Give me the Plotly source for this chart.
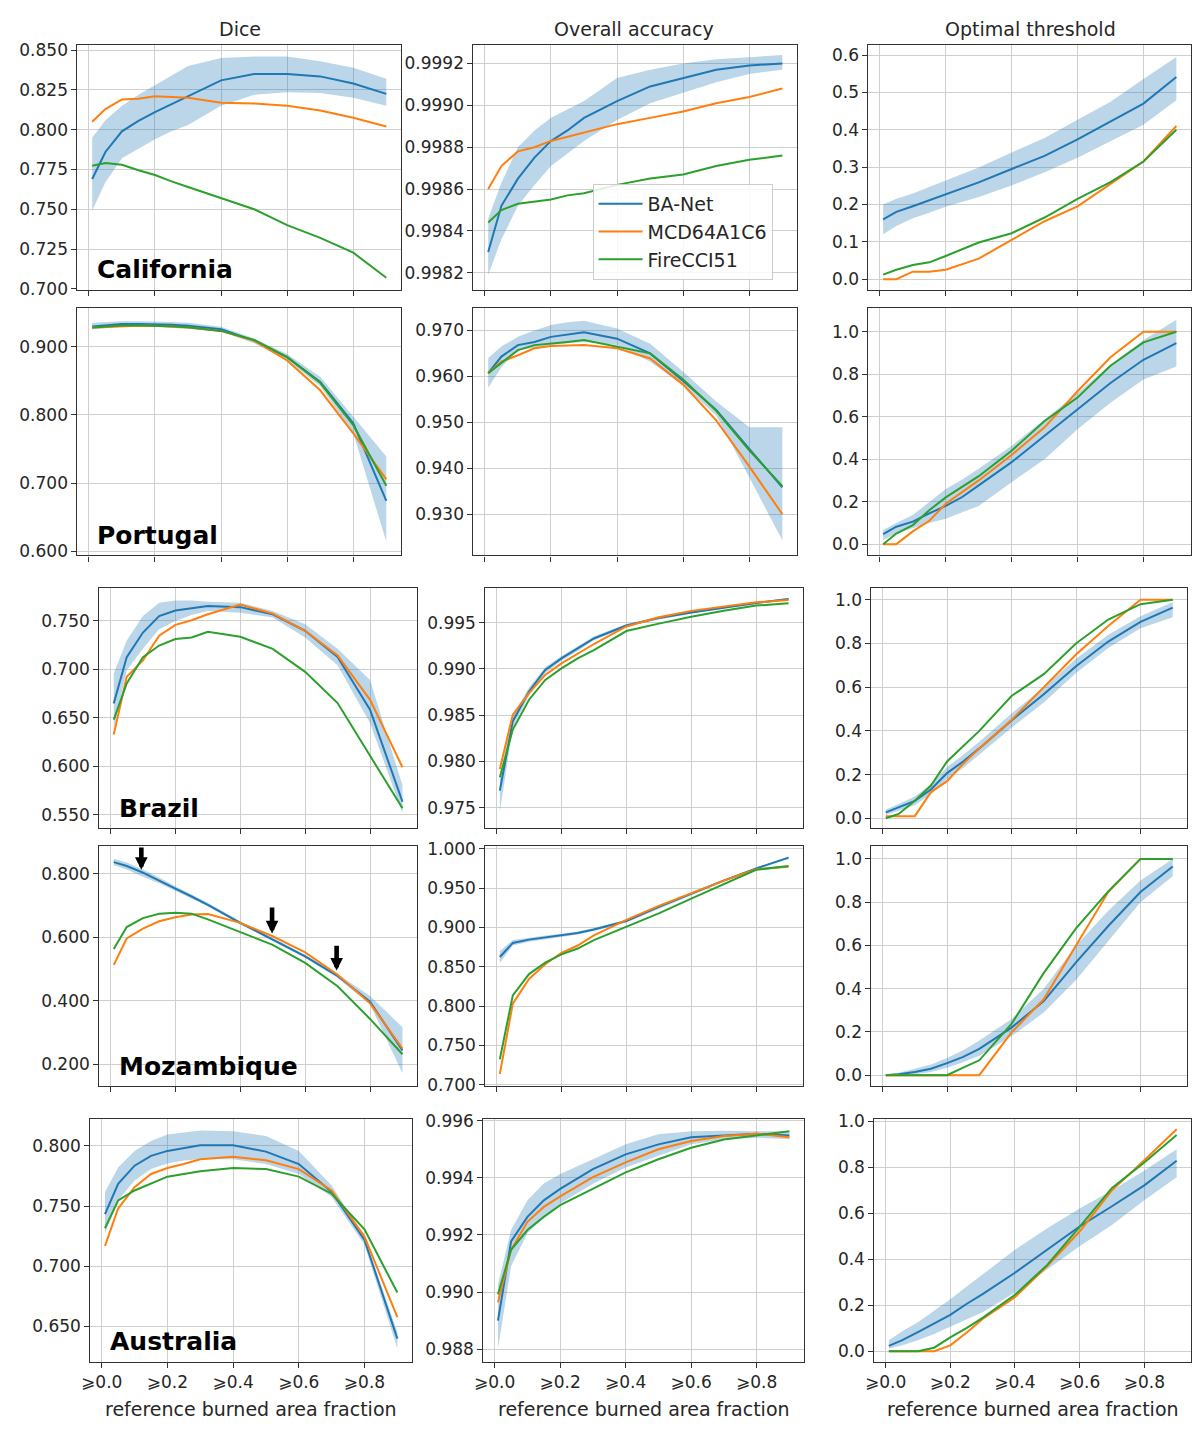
import plotly.graph_objects as go

# ---------------- data ----------------
X = [0.01, 0.05, 0.1, 0.15, 0.2, 0.25, 0.3, 0.4, 0.5, 0.6, 0.7, 0.8, 0.9]
X_TICK_VALUES = [0.0, 0.2, 0.4, 0.6, 0.8]
X_TICK_LABELS = ["⩾0.0", "⩾0.2", "⩾0.4", "⩾0.6", "⩾0.8"]
SERIES_NAMES = ["BA-Net", "MCD64A1C6", "FireCCI51"]
REGIONS = ["California", "Portugal", "Brazil", "Mozambique", "Australia"]
METRICS = ["Dice", "Overall accuracy", "Optimal threshold"]
X_TITLE = "reference burned area fraction"

# California
CA_DICE_BANET = [0.769, 0.786, 0.799, 0.8055, 0.811, 0.816, 0.821, 0.831, 0.835, 0.835, 0.8335, 0.829, 0.8225]
CA_DICE_BANET_HI = [0.795, 0.806, 0.815, 0.822, 0.828, 0.834, 0.840, 0.845, 0.846, 0.846, 0.843, 0.839, 0.832]
CA_DICE_BANET_LO = [0.749, 0.767, 0.782, 0.788, 0.794, 0.799, 0.803, 0.815, 0.822, 0.8235, 0.823, 0.820, 0.815]
CA_DICE_MCD = [0.805, 0.813, 0.819, 0.8195, 0.821, 0.8205, 0.820, 0.817, 0.8165, 0.815, 0.812, 0.8075, 0.802]
CA_DICE_CCI = [0.7774, 0.779, 0.778, 0.7745, 0.7715, 0.7675, 0.764, 0.757, 0.750, 0.740, 0.732, 0.7227, 0.707]

CA_OA_BANET = [0.99830, 0.99852, 0.99865, 0.99875, 0.99883, 0.99888, 0.99894, 0.99902, 0.99909, 0.99913, 0.99917, 0.99919, 0.99920]
CA_OA_BANET_HI = [0.99846, 0.99863, 0.99880, 0.99888, 0.99894, 0.99898, 0.99902, 0.99913, 0.99917, 0.99920, 0.99922, 0.99923, 0.99924]
CA_OA_BANET_LO = [0.99819, 0.99836, 0.99852, 0.99862, 0.99871, 0.99877, 0.99883, 0.99893, 0.99901, 0.99906, 0.99911, 0.99915, 0.99917]
CA_OA_MCD = [0.99860, 0.99871, 0.99878, 0.99880, 0.99883, 0.99885, 0.99887, 0.99891, 0.99894, 0.99897, 0.99901, 0.99904, 0.99908]
CA_OA_CCI = [0.99844, 0.99850, 0.99853, 0.99854, 0.99855, 0.99857, 0.99858, 0.99862, 0.99865, 0.99867, 0.99871, 0.99874, 0.99876]

CA_OT_BANET = [0.160, 0.180, 0.195, 0.211, 0.229, 0.244, 0.259, 0.295, 0.330, 0.374, 0.422, 0.470, 0.541]
CA_OT_BANET_HI = [0.200, 0.215, 0.229, 0.246, 0.264, 0.281, 0.299, 0.339, 0.378, 0.427, 0.475, 0.536, 0.595]
CA_OT_BANET_LO = [0.120, 0.142, 0.163, 0.178, 0.194, 0.207, 0.220, 0.251, 0.286, 0.325, 0.369, 0.413, 0.479]
CA_OT_MCD = [0.0, 0.0, 0.02, 0.02, 0.025, 0.04, 0.055, 0.105, 0.155, 0.195, 0.255, 0.315, 0.41]
CA_OT_CCI = [0.012, 0.025, 0.038, 0.045, 0.062, 0.08, 0.098, 0.123, 0.165, 0.215, 0.26, 0.315, 0.40]

# Portugal
PT_DICE_BANET = [0.9295, 0.9314, 0.933, 0.933, 0.933, 0.932, 0.9305, 0.9256, 0.9087, 0.8845, 0.848, 0.7876, 0.674]
PT_DICE_BANET_HI = [0.935, 0.936, 0.937, 0.937, 0.937, 0.936, 0.935, 0.929, 0.912, 0.889, 0.856, 0.797, 0.739]
PT_DICE_BANET_LO = [0.925, 0.927, 0.929, 0.929, 0.929, 0.928, 0.926, 0.922, 0.905, 0.880, 0.842, 0.773, 0.614]
PT_DICE_MCD = [0.928, 0.929, 0.930, 0.9305, 0.9305, 0.929, 0.928, 0.923, 0.9087, 0.8797, 0.836, 0.773, 0.7055]
PT_DICE_CCI = [0.928, 0.9295, 0.931, 0.931, 0.931, 0.930, 0.9285, 0.923, 0.9097, 0.8845, 0.847, 0.785, 0.696]

PT_OA_BANET = [0.9607, 0.9643, 0.9668, 0.9675, 0.9686, 0.9691, 0.9696, 0.9682, 0.9650, 0.9590, 0.9527, 0.9442, 0.9358]
PT_OA_BANET_HI = [0.9640, 0.9665, 0.9686, 0.9700, 0.9712, 0.9718, 0.9721, 0.9704, 0.9671, 0.9610, 0.9545, 0.9489, 0.9489]
PT_OA_BANET_LO = [0.9575, 0.9620, 0.9657, 0.9662, 0.9668, 0.9672, 0.9675, 0.9668, 0.9632, 0.9580, 0.9515, 0.9380, 0.9243]
PT_OA_MCD = [0.9607, 0.9632, 0.9646, 0.9661, 0.9666, 0.9667, 0.9668, 0.9661, 0.9639, 0.9582, 0.9504, 0.9404, 0.9300]
PT_OA_CCI = [0.9607, 0.9629, 0.9657, 0.9668, 0.9671, 0.9675, 0.9679, 0.9664, 0.9650, 0.9593, 0.9525, 0.9439, 0.9361]

PT_OT_BANET = [0.047, 0.082, 0.106, 0.145, 0.180, 0.222, 0.277, 0.386, 0.510, 0.635, 0.759, 0.868, 0.946]
PT_OT_BANET_HI = [0.067, 0.100, 0.137, 0.200, 0.260, 0.305, 0.355, 0.463, 0.588, 0.712, 0.845, 0.961, 1.057]
PT_OT_BANET_LO = [0.020, 0.050, 0.075, 0.100, 0.120, 0.150, 0.180, 0.292, 0.400, 0.541, 0.666, 0.775, 0.837]
PT_OT_MCD = [0.0, 0.0, 0.06, 0.11, 0.19, 0.245, 0.30, 0.42, 0.55, 0.72, 0.88, 1.0, 1.0]
PT_OT_CCI = [0.0, 0.05, 0.09, 0.16, 0.22, 0.27, 0.32, 0.44, 0.58, 0.69, 0.84, 0.95, 1.0]

# Brazil
BR_DICE_BANET = [0.665, 0.7127, 0.738, 0.755, 0.7608, 0.763, 0.7653, 0.7642, 0.7568, 0.7398, 0.7127, 0.6585, 0.5636]
BR_DICE_BANET_HI = [0.6958, 0.7297, 0.7551, 0.7686, 0.771, 0.771, 0.7697, 0.7686, 0.7602, 0.7466, 0.7212, 0.689, 0.5805]
BR_DICE_BANET_LO = [0.638, 0.6992, 0.7212, 0.7415, 0.750, 0.756, 0.7602, 0.7585, 0.7534, 0.733, 0.7042, 0.6449, 0.5517]
BR_DICE_MCD = [0.633, 0.6924, 0.7093, 0.7347, 0.7459, 0.7507, 0.7568, 0.7669, 0.7575, 0.7398, 0.7144, 0.6686, 0.5992]
BR_DICE_CCI = [0.6483, 0.6856, 0.7127, 0.7246, 0.7314, 0.733, 0.7388, 0.7337, 0.7212, 0.6975, 0.6653, 0.611, 0.5568]

BR_OA_BANET = [0.97686, 0.98436, 0.98757, 0.98989, 0.99114, 0.99220, 0.99330, 0.99470, 0.99550, 0.99610, 0.99665, 0.99712, 0.99757]
BR_OA_BANET_HI = [0.97846, 0.98500, 0.98800, 0.99020, 0.99140, 0.99245, 0.99350, 0.99486, 0.99565, 0.99624, 0.99677, 0.99723, 0.99768]
BR_OA_BANET_LO = [0.97454, 0.98370, 0.98710, 0.98955, 0.99088, 0.99195, 0.99310, 0.99454, 0.99535, 0.99596, 0.99653, 0.99701, 0.99746]
BR_OA_MCD = [0.97918, 0.98507, 0.98739, 0.98936, 0.99061, 0.99168, 0.99270, 0.99460, 0.99560, 0.99628, 0.99677, 0.99720, 0.99746]
BR_OA_CCI = [0.97829, 0.98346, 0.98668, 0.98882, 0.99007, 0.99114, 0.99204, 0.99410, 0.99490, 0.99565, 0.99630, 0.99685, 0.99711]

BR_OT_BANET = [0.027, 0.050, 0.080, 0.132, 0.207, 0.260, 0.320, 0.448, 0.568, 0.696, 0.809, 0.899, 0.964]
BR_OT_BANET_HI = [0.040, 0.065, 0.100, 0.155, 0.235, 0.290, 0.350, 0.480, 0.600, 0.730, 0.840, 0.925, 0.990]
BR_OT_BANET_LO = [0.015, 0.035, 0.060, 0.110, 0.180, 0.230, 0.290, 0.415, 0.530, 0.665, 0.780, 0.870, 0.920]
BR_OT_MCD = [0.01, 0.01, 0.01, 0.12, 0.17, 0.25, 0.32, 0.45, 0.60, 0.75, 0.88, 1.0, 1.0]
BR_OT_CCI = [0.0, 0.02, 0.08, 0.15, 0.26, 0.33, 0.40, 0.56, 0.66, 0.80, 0.91, 0.98, 1.0]

# Mozambique
MZ_DICE_BANET = [0.836, 0.824, 0.803, 0.779, 0.753, 0.728, 0.702, 0.645, 0.593, 0.540, 0.478, 0.397, 0.244]
MZ_DICE_BANET_HI = [0.847, 0.835, 0.813, 0.788, 0.760, 0.734, 0.708, 0.650, 0.598, 0.545, 0.484, 0.415, 0.317]
MZ_DICE_BANET_LO = [0.826, 0.813, 0.790, 0.770, 0.746, 0.722, 0.697, 0.640, 0.588, 0.535, 0.472, 0.389, 0.172]
MZ_DICE_MCD = [0.513, 0.596, 0.627, 0.650, 0.663, 0.671, 0.673, 0.645, 0.603, 0.552, 0.482, 0.392, 0.250]
MZ_DICE_CCI = [0.563, 0.632, 0.660, 0.674, 0.677, 0.674, 0.656, 0.617, 0.576, 0.519, 0.446, 0.343, 0.232]

MZ_OA_BANET = [0.8625, 0.8804, 0.8846, 0.8875, 0.8900, 0.8930, 0.8975, 0.9083, 0.9263, 0.9430, 0.9596, 0.9750, 0.9888]
MZ_OA_BANET_HI = [0.8700, 0.8840, 0.8870, 0.8900, 0.8920, 0.8950, 0.8995, 0.9100, 0.9280, 0.9450, 0.9610, 0.9760, 0.9900]
MZ_OA_BANET_LO = [0.8550, 0.8770, 0.8820, 0.8850, 0.8880, 0.8910, 0.8955, 0.9065, 0.9245, 0.9410, 0.9580, 0.9740, 0.9870]
MZ_OA_MCD = [0.7138, 0.8033, 0.8346, 0.8533, 0.8679, 0.8771, 0.8900, 0.9096, 0.9275, 0.9438, 0.9596, 0.9742, 0.9771]
MZ_OA_CCI = [0.7325, 0.8138, 0.8408, 0.8554, 0.8658, 0.8733, 0.8840, 0.9013, 0.9179, 0.9367, 0.9554, 0.9733, 0.9783]

MZ_OT_BANET = [0.0, 0.005, 0.015, 0.030, 0.056, 0.085, 0.122, 0.220, 0.343, 0.522, 0.690, 0.847, 0.965]
MZ_OT_BANET_HI = [0.005, 0.012, 0.030, 0.050, 0.080, 0.115, 0.160, 0.260, 0.400, 0.600, 0.760, 0.900, 1.000]
MZ_OT_BANET_LO = [0.0, 0.0, 0.005, 0.015, 0.035, 0.060, 0.090, 0.180, 0.290, 0.440, 0.620, 0.800, 0.920]
MZ_OT_MCD = [0.0, 0.0, 0.0, 0.0, 0.0, 0.0, 0.0, 0.198, 0.351, 0.60, 0.847, 1.0, 1.0]
MZ_OT_CCI = [0.0, 0.0, 0.0, 0.0, 0.0, 0.035, 0.069, 0.237, 0.473, 0.679, 0.85, 1.0, 1.0]

# Australia
AU_DICE_BANET = [0.7433, 0.7685, 0.7836, 0.7918, 0.7959, 0.798, 0.8005, 0.8005, 0.7953, 0.785, 0.7617, 0.722, 0.6399]
AU_DICE_BANET_HI = [0.7617, 0.7822, 0.7959, 0.8041, 0.8096, 0.8115, 0.8129, 0.8123, 0.8082, 0.7959, 0.7672, 0.7247, 0.6453]
AU_DICE_BANET_LO = [0.7275, 0.7548, 0.7713, 0.7808, 0.7855, 0.788, 0.789, 0.789, 0.785, 0.7767, 0.7576, 0.7179, 0.6316]
AU_DICE_MCD = [0.717, 0.748, 0.7658, 0.7767, 0.7817, 0.785, 0.789, 0.791, 0.7882, 0.7808, 0.763, 0.7247, 0.6577]
AU_DICE_CCI = [0.7316, 0.7548, 0.763, 0.7685, 0.7745, 0.7767, 0.7789, 0.7817, 0.7808, 0.7745, 0.7603, 0.7307, 0.6782]

AU_OA_BANET = [0.98900, 0.99177, 0.99263, 0.99321, 0.99361, 0.99396, 0.99430, 0.99482, 0.99517, 0.99542, 0.99549, 0.99554, 0.99548]
AU_OA_BANET_HI = [0.99027, 0.99217, 0.99321, 0.99380, 0.99413, 0.99440, 0.99465, 0.99517, 0.99552, 0.99563, 0.99565, 0.99563, 0.99563]
AU_OA_BANET_LO = [0.98802, 0.99090, 0.99206, 0.99262, 0.99310, 0.99345, 0.99379, 0.99436, 0.99477, 0.99517, 0.99534, 0.99540, 0.99535]
AU_OA_MCD = [0.98964, 0.99148, 0.99246, 0.99298, 0.99335, 0.99367, 0.99402, 0.99454, 0.99500, 0.99529, 0.99546, 0.99554, 0.99542]
AU_OA_CCI = [0.98992, 0.99148, 0.99217, 0.99263, 0.99304, 0.99333, 0.99361, 0.99419, 0.99465, 0.99505, 0.99534, 0.99549, 0.99563]

AU_OT_BANET = [0.023, 0.047, 0.083, 0.119, 0.158, 0.205, 0.248, 0.341, 0.441, 0.542, 0.630, 0.721, 0.828]
AU_OT_BANET_HI = [0.047, 0.085, 0.126, 0.175, 0.226, 0.280, 0.334, 0.441, 0.534, 0.620, 0.699, 0.785, 0.878]
AU_OT_BANET_LO = [0.011, 0.025, 0.047, 0.075, 0.105, 0.137, 0.169, 0.255, 0.355, 0.456, 0.549, 0.656, 0.756]
AU_OT_MCD = [0.0, 0.0, 0.0, 0.0, 0.025, 0.08, 0.14, 0.235, 0.37, 0.52, 0.70, 0.83, 0.965]
AU_OT_CCI = [0.0, 0.0, 0.0, 0.015, 0.06, 0.10, 0.145, 0.245, 0.375, 0.54, 0.71, 0.82, 0.94]

# Arrows marking Mozambique Dice points (x, tail y, tip y)
ARROW_X = [0.095, 0.498, 0.697]
ARROW_TAIL_Y = [0.887, 0.698, 0.578]
ARROW_TIP_Y = [0.812, 0.612, 0.495]

# y-axis ticks per panel
Y_TICKS = [
    [[0.700, 0.725, 0.750, 0.775, 0.800, 0.825, 0.850], [0.9982, 0.9984, 0.9986, 0.9988, 0.9990, 0.9992], [0.0, 0.1, 0.2, 0.3, 0.4, 0.5, 0.6]],
    [[0.6, 0.7, 0.8, 0.9], [0.93, 0.94, 0.95, 0.96, 0.97], [0.0, 0.2, 0.4, 0.6, 0.8, 1.0]],
    [[0.55, 0.60, 0.65, 0.70, 0.75], [0.975, 0.980, 0.985, 0.990, 0.995], [0.0, 0.2, 0.4, 0.6, 0.8, 1.0]],
    [[0.2, 0.4, 0.6, 0.8], [0.70, 0.75, 0.80, 0.85, 0.90, 0.95, 1.00], [0.0, 0.2, 0.4, 0.6, 0.8, 1.0]],
    [[0.65, 0.70, 0.75, 0.80], [0.988, 0.990, 0.992, 0.994, 0.996], [0.0, 0.2, 0.4, 0.6, 0.8, 1.0]],
]
Y_FORMATS = [".3f", ".4f", ".1f"]

# ---------------- assemble ----------------
PANELS = [
    [(CA_DICE_BANET, CA_DICE_BANET_LO, CA_DICE_BANET_HI, CA_DICE_MCD, CA_DICE_CCI),
     (CA_OA_BANET, CA_OA_BANET_LO, CA_OA_BANET_HI, CA_OA_MCD, CA_OA_CCI),
     (CA_OT_BANET, CA_OT_BANET_LO, CA_OT_BANET_HI, CA_OT_MCD, CA_OT_CCI)],
    [(PT_DICE_BANET, PT_DICE_BANET_LO, PT_DICE_BANET_HI, PT_DICE_MCD, PT_DICE_CCI),
     (PT_OA_BANET, PT_OA_BANET_LO, PT_OA_BANET_HI, PT_OA_MCD, PT_OA_CCI),
     (PT_OT_BANET, PT_OT_BANET_LO, PT_OT_BANET_HI, PT_OT_MCD, PT_OT_CCI)],
    [(BR_DICE_BANET, BR_DICE_BANET_LO, BR_DICE_BANET_HI, BR_DICE_MCD, BR_DICE_CCI),
     (BR_OA_BANET, BR_OA_BANET_LO, BR_OA_BANET_HI, BR_OA_MCD, BR_OA_CCI),
     (BR_OT_BANET, BR_OT_BANET_LO, BR_OT_BANET_HI, BR_OT_MCD, BR_OT_CCI)],
    [(MZ_DICE_BANET, MZ_DICE_BANET_LO, MZ_DICE_BANET_HI, MZ_DICE_MCD, MZ_DICE_CCI),
     (MZ_OA_BANET, MZ_OA_BANET_LO, MZ_OA_BANET_HI, MZ_OA_MCD, MZ_OA_CCI),
     (MZ_OT_BANET, MZ_OT_BANET_LO, MZ_OT_BANET_HI, MZ_OT_MCD, MZ_OT_CCI)],
    [(AU_DICE_BANET, AU_DICE_BANET_LO, AU_DICE_BANET_HI, AU_DICE_MCD, AU_DICE_CCI),
     (AU_OA_BANET, AU_OA_BANET_LO, AU_OA_BANET_HI, AU_OA_MCD, AU_OA_CCI),
     (AU_OT_BANET, AU_OT_BANET_LO, AU_OT_BANET_HI, AU_OT_MCD, AU_OT_CCI)],
]

W, H = 1196, 1431
BLUE, ORANGE, GREEN = "#1f77b4", "#ff7f0e", "#2ca02c"
BAND = "rgba(31,119,180,0.3)"
FONT = "DejaVu Sans"
TXT = "#262626"

# panel boxes in pixels: (left, right, top, bottom)
BOXES = [
    [(69, 395, 37, 285), (468, 794, 37, 285), (866, 1191, 37, 285)],
    [(69, 395, 304, 554), (468, 794, 304, 554), (866, 1191, 304, 554)],
    [(91, 411, 587, 830), (480, 800, 587, 830), (869, 1187, 587, 830)],
    [(91, 411, 848, 1091), (480, 800, 848, 1091), (869, 1187, 848, 1091)],
    [(82, 406, 1124, 1370), (478, 801, 1124, 1370), (872, 1191, 1124, 1370)],
]
Y_RANGES = [
    [[0.6995, 0.8535], [0.99812, 0.99929], [-0.028, 0.628]],
    [[0.594, 0.956], [0.921, 0.9748], [-0.053, 1.11]],
    [[0.5364, 0.7839], [0.9728, 0.99875], [-0.045, 1.054]],
    [[0.132, 0.887], [0.6985, 1.0037], [-0.05, 1.06]],
    [[0.6207, 0.8227], [0.98756, 0.99607], [-0.046, 1.011]],
]
X_RANGE = [-0.0345, 0.9445]


def axname(k):
    return "" if k == 1 else str(k)


fig = go.Figure()
layout = dict(
    width=W, height=H, margin=dict(l=0, r=0, t=0, b=0),
    paper_bgcolor="white", plot_bgcolor="white",
    font=dict(family=FONT, color=TXT, size=17),
    showlegend=True,
    legend=dict(x=588 / W, y=1 - 178 / H, xanchor="left", yanchor="top",
                bgcolor="rgba(255,255,255,0.85)", bordercolor="#cccccc", borderwidth=1,
                font=dict(size=19, family=FONT, color=TXT), tracegroupgap=0,
                itemwidth=44),
)
annotations = []

for r in range(5):
    for c in range(3):
        k = r * 3 + c + 1
        s = axname(k)
        xa, ya = "x" + s, "y" + s
        banet, lo, hi, mcd, cci = PANELS[r][c]
        fig.add_trace(go.Scatter(x=X + X[::-1], y=hi + lo[::-1], fill="toself",
                                 fillcolor=BAND, line=dict(width=0), mode="lines",
                                 hoverinfo="skip", showlegend=False, xaxis=xa, yaxis=ya))
        for name, vals, col in zip(SERIES_NAMES, [banet, mcd, cci], [BLUE, ORANGE, GREEN]):
            fig.add_trace(go.Scatter(x=X, y=vals, mode="lines", name=name,
                                     line=dict(color=col, width=2),
                                     legendgroup=name, showlegend=(k == 1),
                                     xaxis=xa, yaxis=ya))
        L, R, T, B = BOXES[r][c]
        axcommon = dict(showgrid=True, gridcolor="#cfcfcf", gridwidth=1, zeroline=False,
                        showline=True, mirror=True, linecolor="#333333", linewidth=1.2,
                        ticks="outside", ticklen=5, tickwidth=1.2, tickcolor="#333333",
                        tickfont=dict(size=17, family=FONT, color=TXT))
        layout["xaxis" + s] = dict(axcommon, domain=[L / W, R / W], anchor=ya,
                                   range=X_RANGE, tickvals=X_TICK_VALUES,
                                   ticktext=X_TICK_LABELS, showticklabels=(r == 4))
        layout["yaxis" + s] = dict(axcommon, domain=[1 - B / H, 1 - T / H], anchor=xa,
                                   range=Y_RANGES[r][c], tickvals=Y_TICKS[r][c],
                                   tickformat=Y_FORMATS[c] if not (r > 0 and c == 1) else ".3f")
        if c == 0:
            annotations.append(dict(text="<b>" + REGIONS[r] + "</b>", xref=xa + " domain",
                                    yref=ya + " domain", x=0.055, y=0.082,
                                    xanchor="left", yanchor="middle", showarrow=False,
                                    font=dict(size=25, family=FONT, color="black")))
        if r == 4:
            annotations.append(dict(text=X_TITLE, xref="paper", yref="paper",
                                    x=(L + R) / 2 / W, y=1 - 1418 / H, xanchor="center",
                                    yanchor="middle", showarrow=False,
                                    font=dict(size=19, family=FONT, color=TXT)))
        if r == 0:
            annotations.append(dict(text=METRICS[c], xref="paper", yref="paper",
                                    x=[233, 630, 1029][c] / W, y=1 - 21 / H,
                                    xanchor="center", yanchor="middle", showarrow=False,
                                    font=dict(size=19, family=FONT, color=TXT)))

for ax_x, ty, hy in zip(ARROW_X, ARROW_TAIL_Y, ARROW_TIP_Y):
    annotations.append(dict(x=ax_x, y=hy, ax=ax_x, ay=ty, xref="x10", yref="y10",
                            axref="x10", ayref="y10", text="", showarrow=True,
                            arrowhead=2, arrowsize=0.55, arrowwidth=4.6, arrowcolor="black"))

layout["annotations"] = annotations
fig.update_layout(**layout)
fig.write_html("out.html")
